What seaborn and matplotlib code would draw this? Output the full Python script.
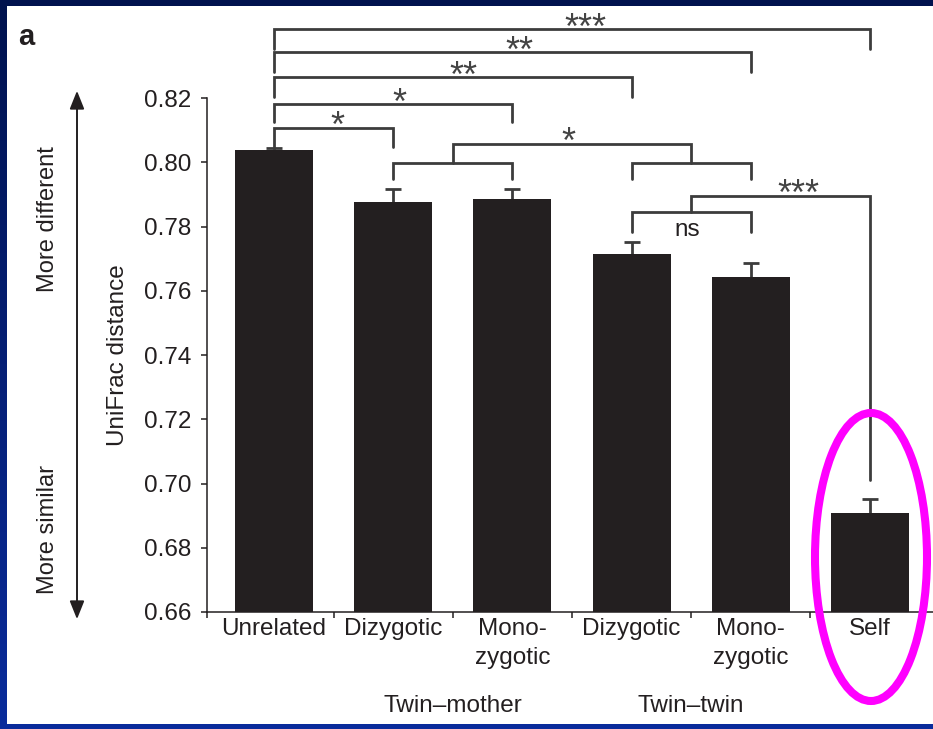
import numpy as np
import pandas as pd
import matplotlib
matplotlib.use("Agg")
import matplotlib.pyplot as plt
import seaborn as sns
from matplotlib.patches import Rectangle, Ellipse
from matplotlib.colors import LinearSegmentedColormap

# ---------------- data ----------------
groups = ["Unrelated", "TM-DZ", "TM-MZ", "TT-DZ", "TT-MZ", "Self"]
tick_labels = ["Unrelated", "Dizygotic", "Mono-\nzygotic", "Dizygotic", "Mono-\nzygotic", "Self"]
means = [0.8038, 0.7877, 0.7886, 0.7714, 0.7644, 0.6908]
sem = [0.0006, 0.0039, 0.0030, 0.0039, 0.0043, 0.0044]
y_ticks = [0.66, 0.68, 0.70, 0.72, 0.74, 0.76, 0.78, 0.80, 0.82]
group_labels = ["Twin\u2013mother", "Twin\u2013twin"]
group_centers = [1.5, 3.5]

# significance brackets: (x_left, x_right, y_line, y_left_end, y_right_end, label, label_x)
brackets = [
    (0, 5, 0.8414, 0.8352, 0.8352, "***", 2.61),
    (0, 4, 0.8342, 0.8282, 0.8282, "**", 2.06),
    (0, 3, 0.8265, 0.8204, 0.8204, "**", 1.59),
    (0, 2, 0.8180, 0.8126, 0.8126, "*", 1.05),
    (0, 1, 0.8108, 0.8046, 0.8048, "*", 0.53),
    (1, 2, 0.7999, 0.7947, 0.7947, "", 1.5),
    (3, 4, 0.7999, 0.7947, 0.7947, "", 3.5),
    (1.5, 3.5, 0.8057, 0.7999, 0.7999, "*", 2.47),
    (3, 4, 0.7844, 0.7784, 0.7784, "", 3.5),
    (3.5, 5, 0.7895, 0.7844, 0.7011, "***", 4.40),
]
ns_label = ("ns", 3.47, 0.7844)

df = pd.DataFrame({"group": groups, "dist": means})

# ---------------- style ----------------
sns.set_theme(style="ticks")
plt.rcParams["font.family"] = ["Liberation Sans", "DejaVu Sans"]
plt.rcParams["font.size"] = 17.5

W, H = 933, 729
fig = plt.figure(figsize=(W / 100, H / 100), dpi=100)

# background: navy gradient frame with white panel
bg = fig.add_axes([0, 0, 1, 1], zorder=-10)
cmap = LinearSegmentedColormap.from_list("navy", ["#00124e", "#0a2c9c"])
bg.imshow(np.linspace(0, 1, 256).reshape(-1, 1), aspect="auto", cmap=cmap,
          extent=[0, 1, 0, 1], origin="upper")
bg.add_patch(Rectangle((7 / W, 1 - 724 / H), (W - 7) / W, (724 - 6) / H,
                       transform=bg.transAxes, facecolor="white", edgecolor="none"))
bg.set_xlim(0, 1); bg.set_ylim(0, 1)
bg.axis("off")

ink = "#231f20"
line_c = "#3c3c3c"

ax_left = 207 / W
ax_bottom = 1 - 612 / H
px_per_unit = 64.25 / 0.02
ymax = 0.66 + 594.3 / px_per_unit
ax = fig.add_axes([ax_left, ax_bottom, 1 - ax_left, 594.3 / H])
ax.set_facecolor("none")

sns.barplot(data=df, x="group", y="dist", order=groups, color=ink, saturation=1,
            width=0.655, errorbar=None, edgecolor="none", ax=ax, zorder=3)
eb = ax.errorbar(range(len(groups)), means, yerr=[np.zeros(len(sem)), sem], fmt="none",
                 ecolor=line_c, elinewidth=2, capsize=6, capthick=2, zorder=1)
# keep only the upper caps (one-sided error bars)
eb[1][0].set_visible(False)

ax.set_ylim(0.66, ymax)
ax.set_xlim(-0.562, 5.529)
ax.set_yticks(y_ticks)
ax.set_yticklabels([f"{v:.2f}" for v in y_ticks])
ax.set_xticks(range(len(groups)))
ax.set_xticklabels(tick_labels, linespacing=1.42)
ax.set_xticks([-0.562, 0.5, 1.5, 2.5, 3.5, 4.5], minor=True)
ax.tick_params(axis="x", which="major", length=0, pad=4, labelsize=17.5, colors=ink)
ax.tick_params(axis="x", which="minor", length=4.3, width=1.1, color=ink, direction="out")
ax.tick_params(axis="y", length=4.3, width=1.1, pad=7, labelsize=17.5, color=ink, labelcolor=ink)
ax.set_xlabel(""); ax.set_ylabel("")
for s in ["top", "right"]:
    ax.spines[s].set_visible(False)
ax.spines["left"].set_bounds(0.66, 0.82)
for s in ["left", "bottom"]:
    ax.spines[s].set_linewidth(1.1)
    ax.spines[s].set_color(ink)

# brackets
for x1, x2, y, yl, yr, lab, lx in brackets:
    ax.plot([x1, x1, x2, x2], [yl, y, y, yr], color=line_c, lw=2, clip_on=False,
            solid_joinstyle="miter", zorder=4)
    if lab:
        ax.annotate(lab, xy=(lx, y), xytext=(0, -6.8), textcoords="offset points",
                    ha="center", va="baseline", fontsize=26, color="#444444",
                    annotation_clip=False)
ax.annotate(ns_label[0], xy=(ns_label[1], ns_label[2]), xytext=(0, -17.3),
            textcoords="offset points", ha="center", va="baseline", fontsize=17.5,
            color=ink, annotation_clip=False)

# group labels
for gx, gl in zip(group_centers, group_labels):
    ax.text(gx, (612 - 706) / 594.3, gl, transform=ax.get_xaxis_transform(),
            ha="center", va="center", fontsize=17.5, color=ink)

# axis title and side annotations
fig.text(118 / W, 1 - 355 / H, "UniFrac distance", rotation=90, ha="center",
         va="center", fontsize=17.5, color=ink)
fig.text(48 / W, 1 - 219 / H, "More different", rotation=90, ha="center",
         va="center", fontsize=17, color=ink)
fig.text(48 / W, 1 - 529 / H, "More similar", rotation=90, ha="center",
         va="center", fontsize=17, color=ink)
fig.add_artist(matplotlib.patches.FancyArrowPatch(
    (77 / W, 1 - 622 / H), (77 / W, 1 - 88 / H), transform=fig.transFigure,
    arrowstyle="<|-|>,head_length=0.55,head_width=0.22", mutation_scale=20,
    color=ink, lw=1.4))
fig.text(18 / W, 1 - 45 / H, "a", ha="left", va="baseline", fontsize=21,
         fontweight="bold", color=ink)

# highlight ellipse
fig.add_artist(Ellipse((871 / W, 1 - 557 / H), 112 / W, 288 / H,
                       transform=fig.transFigure, fill=False,
                       edgecolor="#ff00ff", lw=5.8, zorder=20))

fig.savefig("out.png", dpi=100, facecolor=fig.get_facecolor())
